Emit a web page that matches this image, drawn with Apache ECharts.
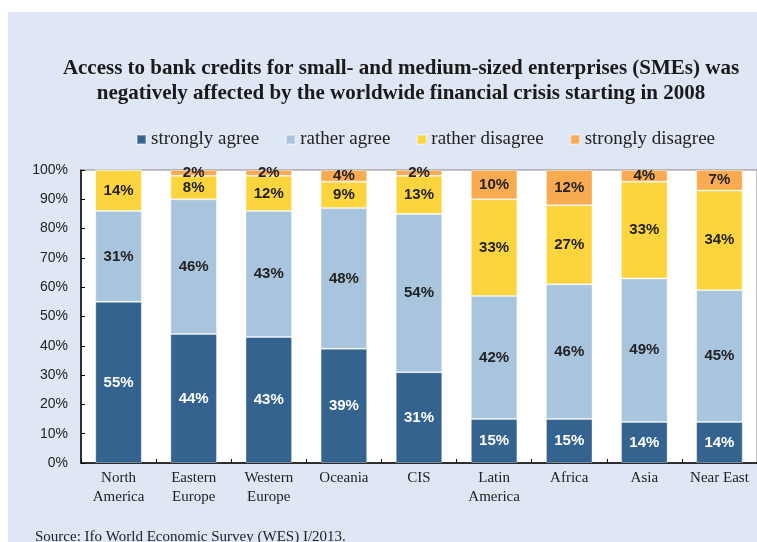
<!DOCTYPE html>
<html>
<head>
<meta charset="utf-8">
<script src="https://cdn.jsdelivr.net/npm/echarts@6/dist/echarts.min.js"></script>
<style>
html,body{margin:0;padding:0;background:#fff;}
#chart{width:757px;height:542px;}
</style>
</head>
<body>
<div id="chart"></div>
<script>
const categories = ['North\nAmerica','Eastern\nEurope','Western\nEurope','Oceania','CIS','Latin\nAmerica','Africa','Asia','Near East'];
const stronglyAgree = [55,44,43,39,31,15,15,14,14];
const ratherAgree = [31,46,43,48,54,42,46,49,45];
const ratherDisagree = [14,8,12,9,13,33,27,33,34];
const stronglyDisagree = [0,2,2,4,2,10,12,4,7];
const seriesNames = ['strongly agree','rather agree','rather disagree','strongly disagree'];
const seriesColors = ['#34638F','#A9C4DD','#FCD43E','#F9AB52'];
const yTicks = [0,10,20,30,40,50,60,70,80,90,100];

const chart = echarts.init(document.getElementById('chart'));
const dataSets = [stronglyAgree, ratherAgree, ratherDisagree, stronglyDisagree];

const series = dataSets.map((d, i) => ({
  name: seriesNames[i],
  type: 'bar',
  stack: 'total',
  data: d,
  barCategoryGap: '38%',
  itemStyle: { color: seriesColors[i], borderColor: 'rgba(255,255,255,0.35)', borderWidth: 1 },
  label: {
    show: true,
    position: 'inside',
    formatter: p => p.value > 0 ? p.value + '%' : '',
    fontFamily: 'Liberation Sans, Arial, sans-serif',
    fontWeight: 'bold',
    fontSize: 15,
    color: i === 0 ? '#ffffff' : '#222222'
  }
}));

chart.setOption({
  backgroundColor: '#ffffff',
  animation: false,
  graphic: [{
    type: 'rect',
    z: -100,
    shape: { x: 8, y: 12, width: 760, height: 540 },
    style: { fill: '#DFE7F4' }
  }, {
    type: 'text',
    left: 35,
    top: 530,
    style: {
      text: 'Source: Ifo World Economic Survey (WES) I/2013.',
      fontFamily: 'Liberation Serif, Times New Roman, serif',
      fontSize: 15,
      fill: '#222222'
    }
  }],
  title: {
    text: 'Access to bank credits for small- and medium-sized enterprises (SMEs) was\nnegatively affected by the worldwide financial crisis starting in 2008',
    left: 396,
    top: 51,
    textAlign: 'center',
    textStyle: {
      fontFamily: 'Liberation Serif, Times New Roman, serif',
      fontWeight: 'bold',
      fontSize: 21,
      lineHeight: 25,
      color: '#1a1a1a'
    }
  },
  legend: {
    left: 131,
    top: 125,
    itemWidth: 9,
    itemHeight: 9,
    itemGap: 26,
    icon: 'rect',
    textStyle: {
      fontFamily: 'Liberation Serif, Times New Roman, serif',
      fontSize: 19,
      color: '#222222'
    },
    data: seriesNames
  },
  grid: {
    left: 81,
    top: 170,
    width: 679,
    bottom: 79,
    show: true,
    backgroundColor: '#ffffff',
    borderColor: '#888888',
    borderWidth: 1,
    containLabel: false
  },
  xAxis: {
    type: 'category',
    data: categories,
    axisLine: { show: true, lineStyle: { color: '#000', width: 1.5 } },
    axisTick: { show: true, inside: true, length: 4, lineStyle: { color: '#000' } },
    axisLabel: {
      margin: 6,
      interval: 0,
      fontFamily: 'Liberation Serif, Times New Roman, serif',
      fontSize: 15,
      lineHeight: 19,
      color: '#222222'
    }
  },
  yAxis: {
    type: 'value',
    min: 0,
    max: 100,
    interval: 10,
    axisLine: { show: true, lineStyle: { color: '#000', width: 1.5 } },
    axisTick: { show: true, inside: true, length: 4, lineStyle: { color: '#000' } },
    splitLine: { show: false },
    axisLabel: {
      margin: 13,
      formatter: v => yTicks.includes(v) ? v + '%' : '',
      fontFamily: 'Liberation Sans, Arial, sans-serif',
      fontSize: 14,
      color: '#222222'
    }
  },
  series: series
});
</script>
</body>
</html>
